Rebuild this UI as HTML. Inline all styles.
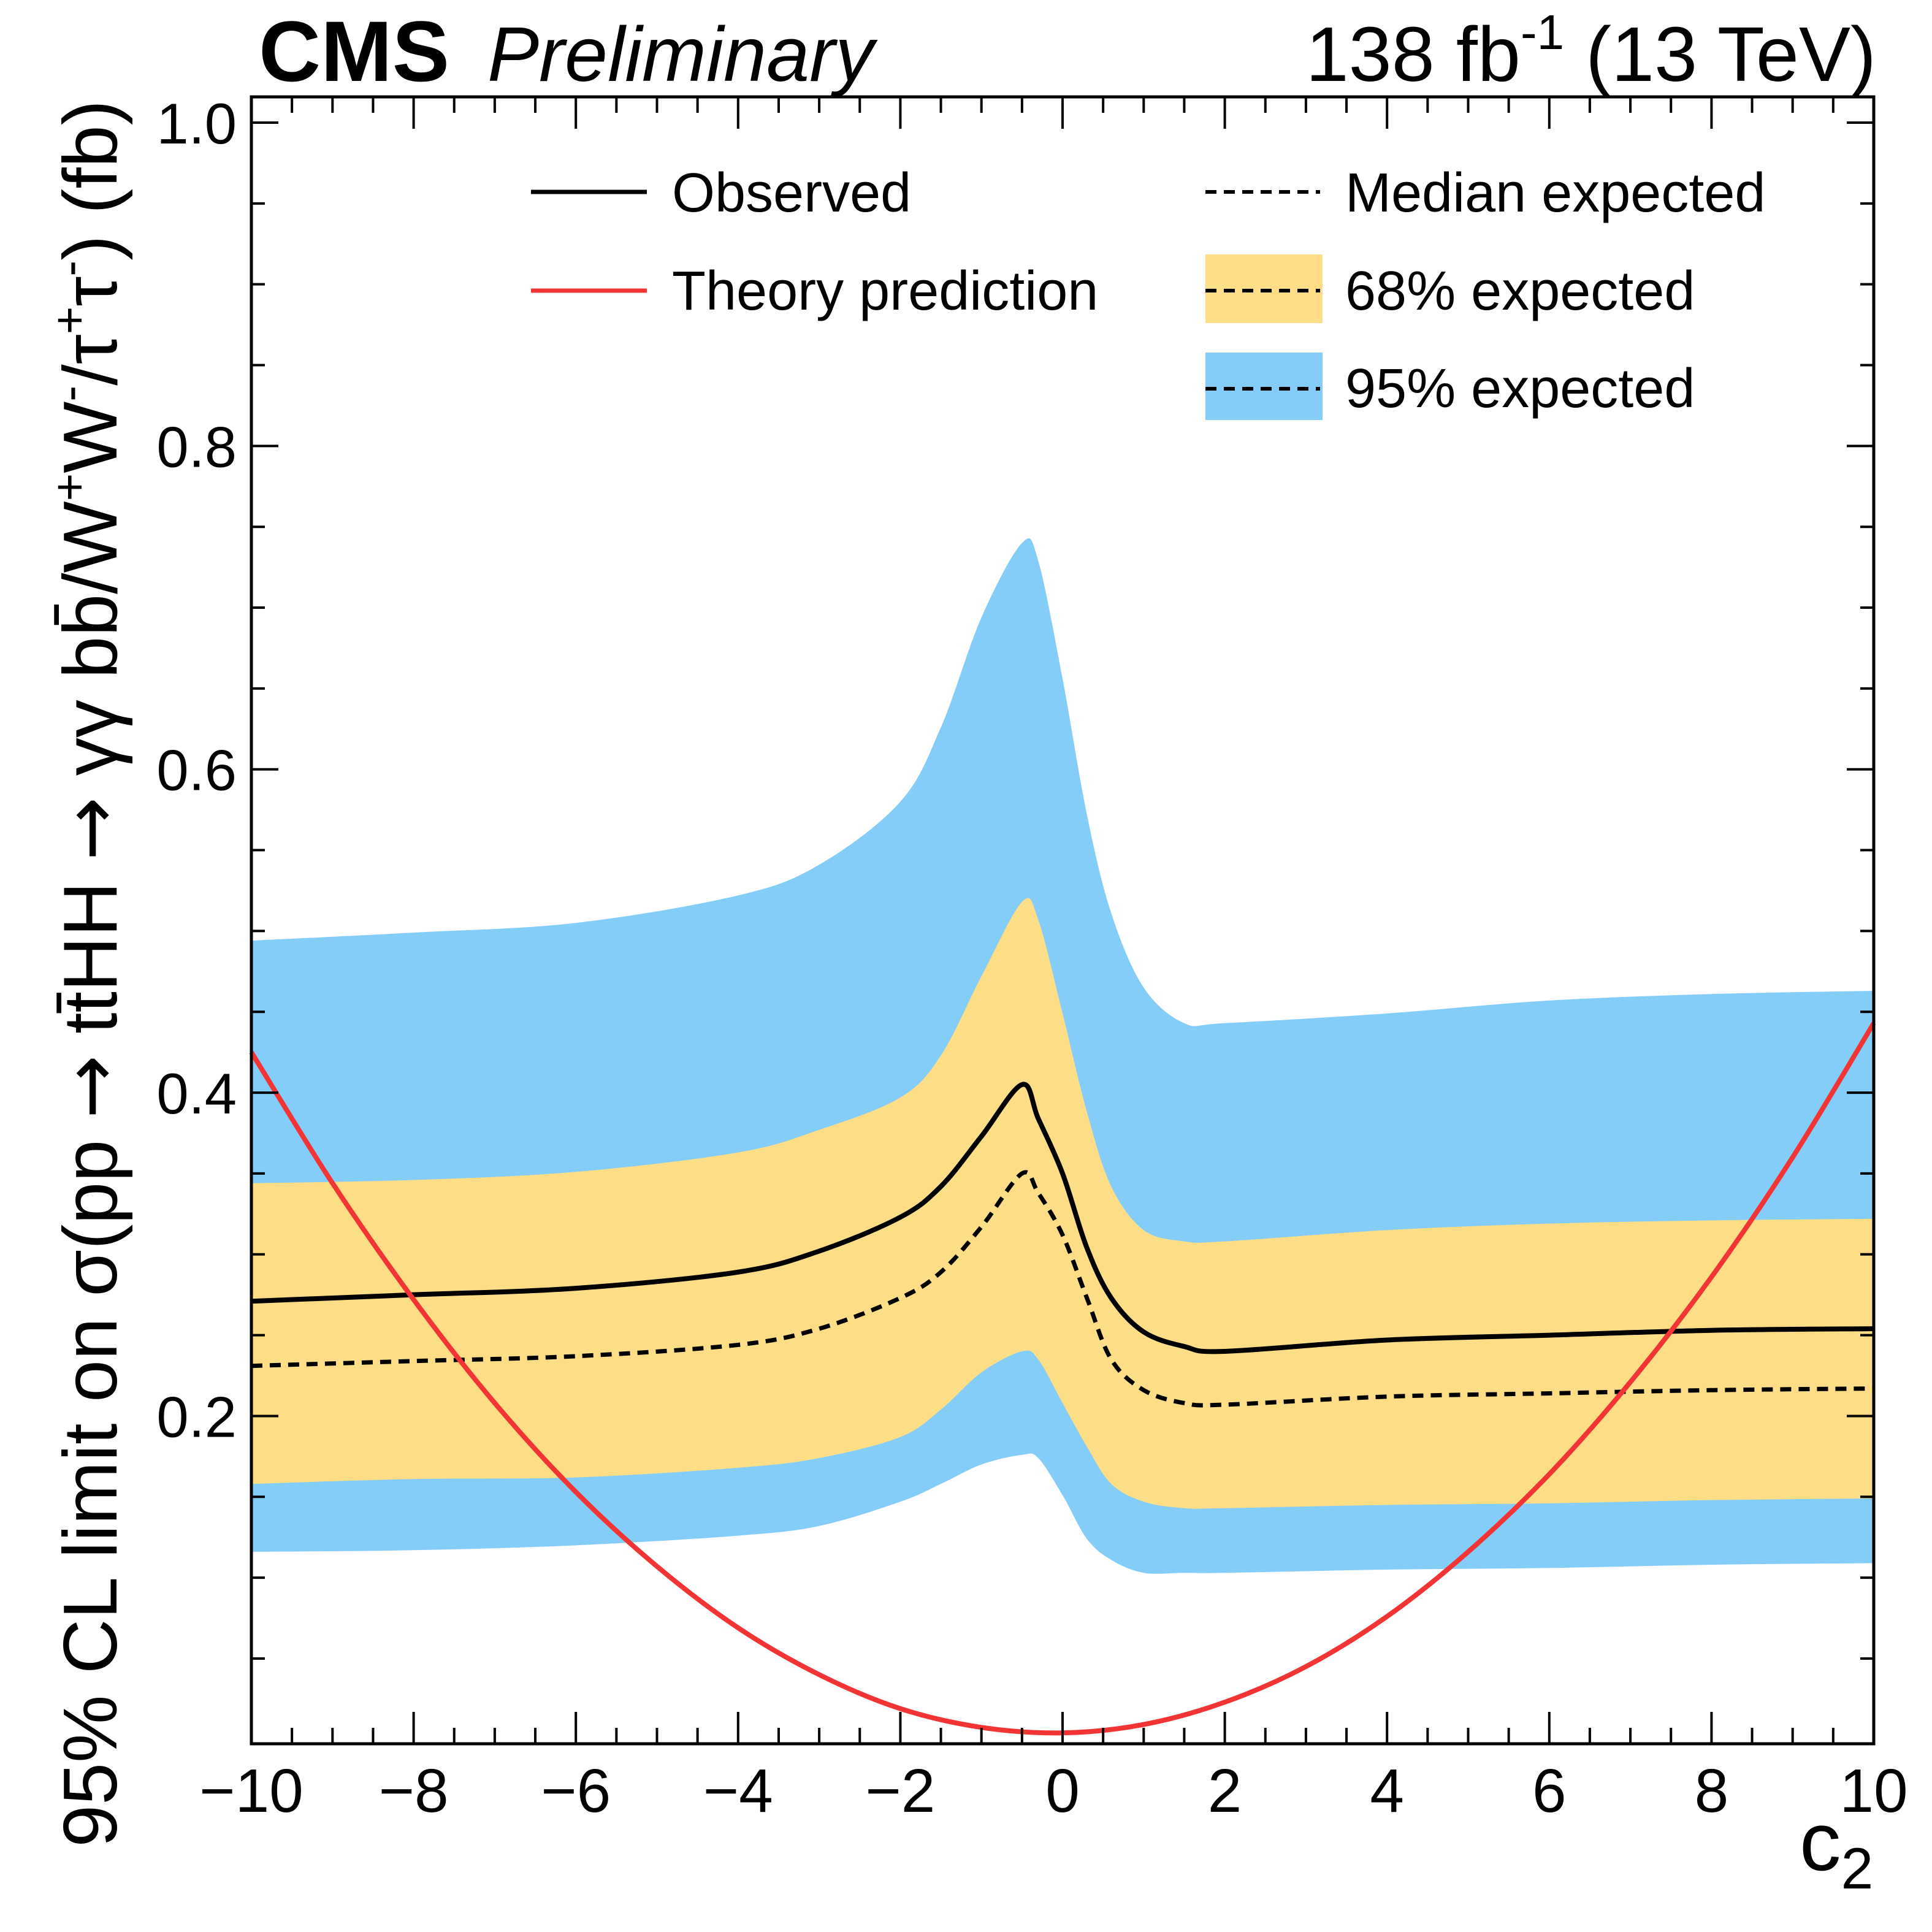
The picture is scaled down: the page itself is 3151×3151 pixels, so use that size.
<!DOCTYPE html>
<html><head><meta charset="utf-8"><style>
html,body{margin:0;padding:0;background:#fff}
svg{display:block;font-family:"Liberation Sans",sans-serif}
</style></head><body>
<svg id="chart" width="3151" height="3151" viewBox="0 0 3151 3151" xmlns="http://www.w3.org/2000/svg">
<g id="bands"></g><g id="lines"></g><g id="axes"></g><g id="legend"></g>
<text x="422" y="132" font-size="140" font-weight="bold">CMS</text>
<text x="795" y="132" font-size="126" font-style="italic">Preliminary</text>
<text x="3060" y="132" font-size="126" text-anchor="end">138 fb<tspan font-size="80" dy="-52">-1</tspan><tspan dy="52"> (13 TeV)</tspan></text>
<text x="2935" y="3050" font-size="135">c<tspan font-size="95" dy="30">2</tspan></text>
<text transform="translate(190,163) rotate(-90)" font-size="124" text-anchor="end">95% CL limit on σ(pp <tspan font-family="DejaVu Sans">→</tspan> tt̄HH <tspan font-family="DejaVu Sans">→</tspan> γγ bb̄/W<tspan font-size="78" dy="-50">+</tspan><tspan dy="50">W</tspan><tspan font-size="78" dy="-50">-</tspan><tspan dy="50">/τ</tspan><tspan font-size="78" dy="-50">+</tspan><tspan dy="50">τ</tspan><tspan font-size="78" dy="-50">-</tspan><tspan dy="50">) (fb)</tspan></text>
</svg>
<script>
const cx = [-10,-8,-6,-4,-3,-2,-1.5,-1,-0.5,-0.3,0,0.3,0.6,1,1.5,2,4,6,8,10];
const observed = [0.271,0.275,0.279,0.289,0.302,0.323,0.342,0.373,0.405,0.384,0.350,0.304,0.273,0.252,0.243,0.240,0.247,0.250,0.253,0.254];
const expected = [0.231,0.234,0.237,0.244,0.254,0.273,0.289,0.317,0.350,0.338,0.312,0.273,0.235,0.216,0.208,0.207,0.212,0.214,0.216,0.217];
const band68Up = [0.344,0.346,0.351,0.363,0.377,0.397,0.423,0.472,0.518,0.507,0.449,0.388,0.342,0.315,0.308,0.308,0.315,0.319,0.321,0.322];
const band68Lo = [0.158,0.161,0.162,0.168,0.174,0.187,0.204,0.227,0.240,0.235,0.208,0.181,0.158,0.147,0.143,0.143,0.145,0.146,0.148,0.149];
const band95Up = [0.494,0.499,0.505,0.522,0.541,0.580,0.626,0.694,0.740,0.729,0.656,0.572,0.511,0.465,0.443,0.443,0.449,0.457,0.461,0.463];
const band95Lo = [0.116,0.117,0.120,0.126,0.132,0.147,0.158,0.170,0.176,0.174,0.151,0.124,0.111,0.103,0.103,0.103,0.105,0.106,0.108,0.109];
const thX = [-10,-9,-8,-7,-6,-5,-4,-3,-2,-1,0,1,2,3,4,5,6,7,8,9,10];
const theory = [0.425,0.344,0.272,0.208,0.153,0.107,0.069,0.040,0.019,0.0074,0.004,0.0092,0.023,0.045,0.076,0.116,0.164,0.221,0.286,0.360,0.443];
const xTicks = [-10,-8,-6,-4,-2,0,2,4,6,8,10];
const xTickLabels = ["−10","−8","−6","−4","−2","0","2","4","6","8","10"];
const yTicks = [0.2,0.4,0.6,0.8,1.0];
const yTickLabels = ["0.2","0.4","0.6","0.8","1.0"];

const L=410,R=3056,T=158,B=2844;
const X=c=>L+(c+10)/20*(R-L);
const Y=v=>2836.8-v*2636.8;
const NS="http://www.w3.org/2000/svg";
function mk(tag,parent){const e=document.createElementNS(NS,tag);document.getElementById(parent).appendChild(e);return e;}
function spline(xs,ys){
  const p=xs.map((x,i)=>[X(x),Y(ys[i])]);
  let d="M"+p[0][0]+","+p[0][1];
  for(let i=0;i<p.length-1;i++){
    const p0=p[Math.max(i-1,0)],p1=p[i],p2=p[i+1],p3=p[Math.min(i+2,p.length-1)];
    const t=0.5/3;
    d+=" C"+(p1[0]+(p2[0]-p0[0])*t)+","+(p1[1]+(p2[1]-p0[1])*t)+" "+(p2[0]-(p3[0]-p1[0])*t)+","+(p2[1]-(p3[1]-p1[1])*t)+" "+p2[0]+","+p2[1];
  }
  return d;
}
function bandPath(up,lo){
  const u=spline(cx,up);
  const rx=cx.slice().reverse(), rl=lo.slice().reverse();
  const l=spline(rx,rl).replace(/^M/,"L");
  return u+" "+l+" Z";
}
const b95=mk("path","bands");


b95.setAttribute("d",bandPath(band95Up,band95Lo));b95.setAttribute("fill","#85CDF9");
const b68=mk("path","bands");


b68.setAttribute("d",bandPath(band68Up,band68Lo));b68.setAttribute("fill","#FDDE86");

const exp=mk("path","lines");


exp.setAttribute("d",spline(cx,expected));exp.setAttribute("fill","none");exp.setAttribute("stroke","#000");exp.setAttribute("stroke-width","7");exp.setAttribute("stroke-dasharray","18,12");
const obs=mk("path","lines");


obs.setAttribute("d",spline(cx,observed));obs.setAttribute("fill","none");obs.setAttribute("stroke","#000");obs.setAttribute("stroke-width","8");
const th=mk("path","lines");


th.setAttribute("d",spline(thX,theory));th.setAttribute("fill","none");th.setAttribute("stroke","#F33434");th.setAttribute("stroke-width","8");

const fr=mk("rect","axes");


fr.setAttribute("x",L);fr.setAttribute("y",T);fr.setAttribute("width",R-L);fr.setAttribute("height",B-T);fr.setAttribute("fill","none");fr.setAttribute("stroke","#000");fr.setAttribute("stroke-width","5");
function line(x1,y1,x2,y2,name){const l=mk("line","axes");


l.setAttribute("x1",x1);l.setAttribute("y1",y1);l.setAttribute("x2",x2);l.setAttribute("y2",y2);l.setAttribute("stroke","#000");l.setAttribute("stroke-width","4");}
for(let c=-10;c<=10.001;c+=0.5){
  const major=Math.abs(c-Math.round(c/2)*2)<1e-6;const len=major?52:26;
  line(X(c),B,X(c),B-len,"x-tick");line(X(c),T,X(c),T+len,"x-tick");
}
for(let v=0.05;v<=1.001;v+=0.05){
  const major=Math.abs(v*5-Math.round(v*5))<1e-6;const len=major?44:22;
  line(L,Y(v),L+len,Y(v),"y-tick");line(R,Y(v),R-len,Y(v),"y-tick");
}
xTicks.forEach((c,i)=>{const t=mk("text","axes");


t.setAttribute("x",X(c));t.setAttribute("y",2955);t.setAttribute("font-size","100");t.setAttribute("text-anchor","middle");t.textContent=xTickLabels[i];});
yTicks.forEach((v,i)=>{const t=mk("text","axes");


t.setAttribute("x",386);t.setAttribute("y",Y(v)+34);t.setAttribute("font-size","94");t.setAttribute("text-anchor","end");t.textContent=yTickLabels[i];});

function leg(tag,attrs,name){const e=mk(tag,"legend");


for(const k in attrs)e.setAttribute(k,attrs[k]);return e;}
leg("rect",{x:1966,y:415,width:191,height:112,fill:"#FDDE86"},"legend-68-swatch");
leg("rect",{x:1966,y:575,width:191,height:110,fill:"#85CDF9"},"legend-95-swatch");
leg("line",{x1:866,y1:313,x2:1055,y2:313,stroke:"#000","stroke-width":7},"legend-observed-line");
leg("line",{x1:866,y1:474,x2:1055,y2:474,stroke:"#F33434","stroke-width":7},"legend-theory-line");
[313,474,634].forEach(y=>leg("line",{x1:1966,y1:y,x2:2153,y2:y,stroke:"#000","stroke-width":6,"stroke-dasharray":"18,12"},"legend-expected-line"));
[["Observed",1096,345],["Theory prediction",1096,505],["Median expected",2194,345],["68% expected",2194,505],["95% expected",2194,664]].forEach(a=>{
  const t=leg("text",{x:a[1],y:a[2],"font-size":"90"},"legend-entry");t.textContent=a[0];});
</script>
</body></html>
